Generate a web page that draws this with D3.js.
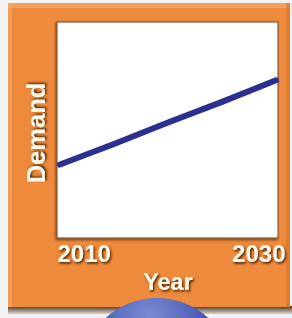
<!DOCTYPE html>
<html>
<head>
<meta charset="utf-8">
<script src="https://cdn.jsdelivr.net/npm/d3@7"></script>
<style>
  html, body { margin: 0; padding: 0; background: #f3f3f3; }
  svg { display: block; }
  .lbl { font-family: "Liberation Sans", Arial, sans-serif; font-weight: bold; fill: #fff7e8; }
</style>
</head>
<body>
<div id="chart"></div>
<script>
const svgWidth = 292;
const svgHeight = 318;

// data
const years = [2010, 2015, 2020, 2025, 2030];
const demand = [34, 43.5, 53.5, 63, 73];
const xTicks = [2010, 2030];

const plot = { left: 57, top: 22, width: 221, height: 216 };

const svg = d3.select("#chart")
  .append("svg")
  .attr("width", svgWidth)
  .attr("height", svgHeight);

const defs = svg.append("defs");

const shadow = defs.append("filter")
  .attr("id", "txtShadow")
  .attr("x", "-20%").attr("y", "-20%")
  .attr("width", "140%").attr("height", "140%");
shadow.append("feDropShadow")
  .attr("dx", 1.3).attr("dy", 1.6)
  .attr("stdDeviation", 1.1)
  .attr("flood-color", "#4a2004")
  .attr("flood-opacity", 1);

const boxShadow = defs.append("filter")
  .attr("id", "boxShadow")
  .attr("x", "-10%").attr("y", "-10%")
  .attr("width", "120%").attr("height", "120%");
boxShadow.append("feDropShadow")
  .attr("dx", -1).attr("dy", 1.5)
  .attr("stdDeviation", 1.2)
  .attr("flood-color", "#4a2408")
  .attr("flood-opacity", 0.7);

const ball = defs.append("radialGradient")
  .attr("id", "ball")
  .attr("cx", "45%").attr("cy", "15%").attr("r", "70%");
ball.append("stop").attr("offset", "0%").attr("stop-color", "#7f8fd6");
ball.append("stop").attr("offset", "55%").attr("stop-color", "#4356b2");
ball.append("stop").attr("offset", "100%").attr("stop-color", "#2a3786");

const bottomShade = defs.append("linearGradient")
  .attr("id", "bottomShade")
  .attr("x1", 0).attr("y1", 0).attr("x2", 0).attr("y2", 1);
bottomShade.append("stop").attr("offset", "0%").attr("stop-color", "#4e3018");
bottomShade.append("stop").attr("offset", "100%").attr("stop-color", "#d8d4d0");

// orange panel
svg.append("rect")
  .attr("x", 8).attr("y", 306)
  .attr("width", 284).attr("height", 8)
  .attr("fill", "url(#bottomShade)");

svg.append("rect")
  .attr("x", 8).attr("y", 3)
  .attr("width", 282).attr("height", 304)
  .attr("fill", "#ee8a3b");

// light bevel on top and left
svg.append("rect")
  .attr("x", 8).attr("y", 3)
  .attr("width", 282).attr("height", 5)
  .attr("fill", "#f4a566")
  .attr("opacity", 0.8);
svg.append("rect")
  .attr("x", 8).attr("y", 3)
  .attr("width", 4).attr("height", 304)
  .attr("fill", "#f4a566")
  .attr("opacity", 0.7);
svg.append("rect")
  .attr("x", 286).attr("y", 3)
  .attr("width", 4).attr("height", 304)
  .attr("fill", "#d8762c")
  .attr("opacity", 0.7);

// blue ball peeking in at the bottom
svg.append("circle")
  .attr("cx", 157).attr("cy", 374)
  .attr("r", 76)
  .attr("fill", "url(#ball)");

// white plot area
svg.append("rect")
  .attr("x", plot.left).attr("y", plot.top)
  .attr("width", plot.width).attr("height", plot.height)
  .attr("fill", "#ffffff")
  .attr("stroke", "#8a5a38")
  .attr("stroke-width", 1.2)
  .attr("filter", "url(#boxShadow)");

const x = d3.scaleLinear()
  .domain([2010, 2030])
  .range([60, 276]);

const y = d3.scaleLinear()
  .domain([0, 100])
  .range([plot.top + plot.height, plot.top]);

const line = d3.line()
  .x((d, i) => x(years[i]))
  .y(d => y(d));

svg.append("path")
  .datum(demand)
  .attr("d", line)
  .attr("fill", "none")
  .attr("stroke", "#2b2f8f")
  .attr("stroke-width", 6)
  .attr("stroke-linecap", "round")
  .attr("stroke-linejoin", "round");

// x axis: only the end years, no tick marks
const xAxis = svg.append("g")
  .attr("transform", `translate(0, ${plot.top + plot.height})`)
  .call(d3.axisBottom(x).tickValues(xTicks).tickFormat(d3.format("d")).tickSize(0));

xAxis.select(".domain").remove();
xAxis.selectAll("text")
  .attr("class", "lbl")
  .attr("font-size", 24)
  .attr("dy", 0)
  .attr("y", 24)
  .attr("filter", "url(#txtShadow)")
  .attr("text-anchor", d => d === 2010 ? "start" : "end")
  .attr("dx", d => d === 2010 ? -3 : 9);

svg.append("text")
  .attr("class", "lbl")
  .attr("x", 168)
  .attr("y", 290)
  .attr("text-anchor", "middle")
  .attr("font-size", 23.5)
  .attr("filter", "url(#txtShadow)")
  .text("Year");

svg.append("text")
  .attr("class", "lbl")
  .attr("transform", "translate(45, 133) rotate(-90)")
  .attr("text-anchor", "middle")
  .attr("font-size", 25.5)
  .attr("filter", "url(#txtShadow)")
  .text("Demand");
</script>
</body>
</html>
